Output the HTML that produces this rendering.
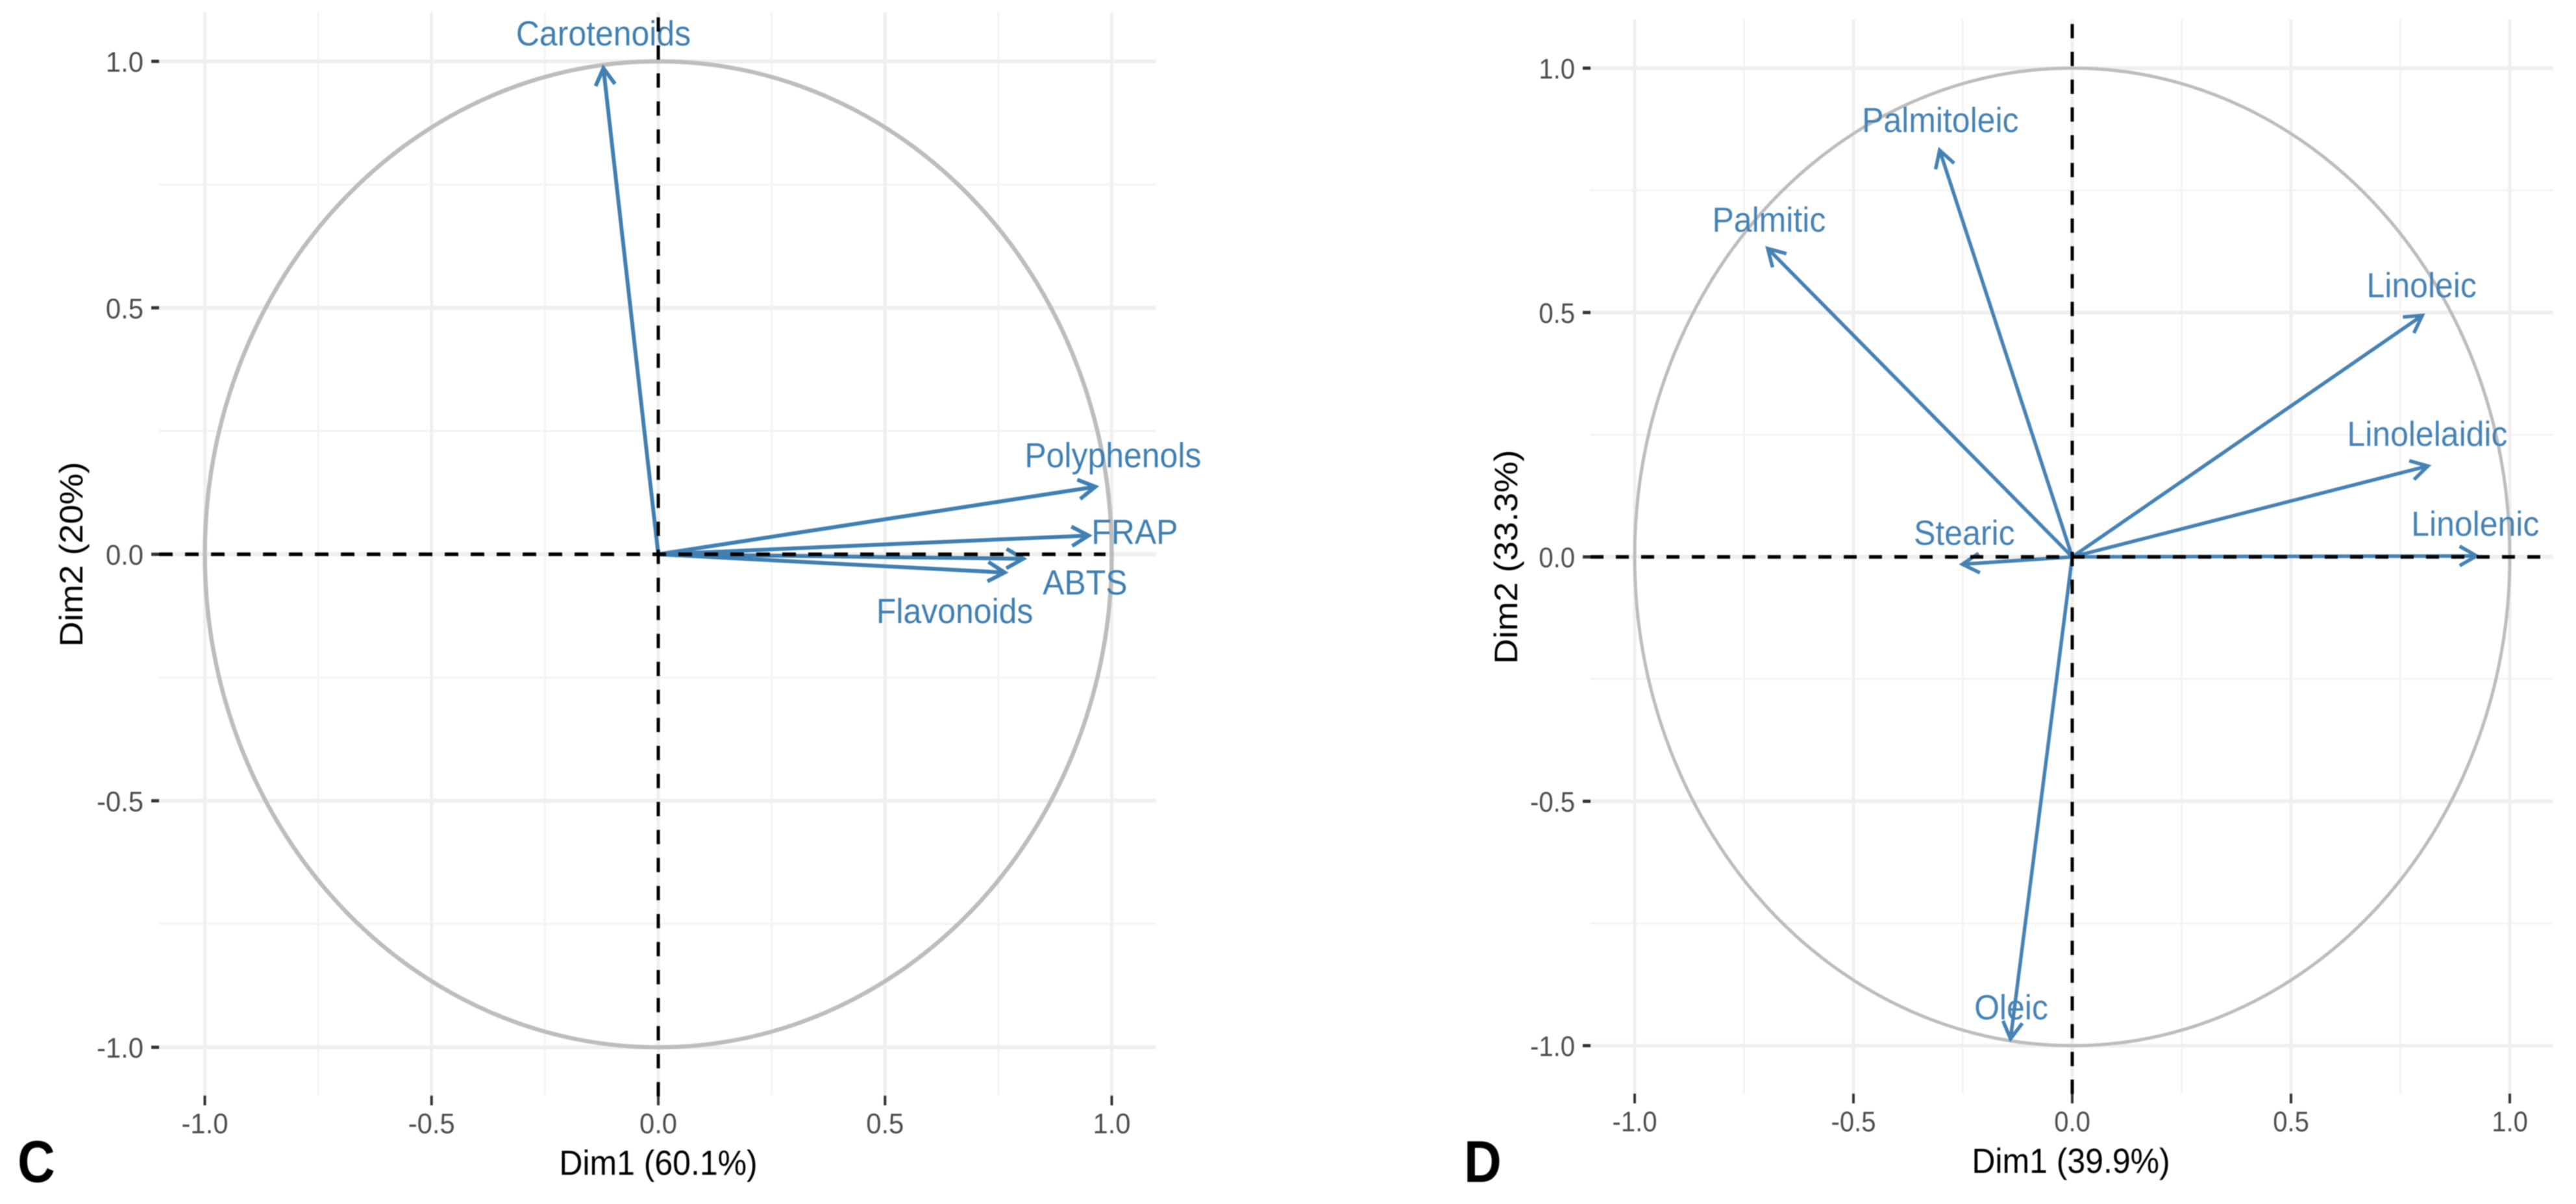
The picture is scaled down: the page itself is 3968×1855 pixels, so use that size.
<!DOCTYPE html>
<html lang="en">
<head>
<meta charset="utf-8">
<title>PCA variable correlation circles</title>
<style>
  html, body { margin: 0; padding: 0; background: #ffffff; }
  #figure { display: block; width: 3968px; height: 1855px; filter: blur(0.9px); }
  text { font-family: "Liberation Sans", Arial, sans-serif; }
</style>
</head>
<body>
<svg id="figure" xmlns="http://www.w3.org/2000/svg" width="3968" height="1855" viewBox="0 0 3968 1855">
  <rect x="0" y="0" width="3968" height="1855" fill="#ffffff"></rect>
  <g id="panel-c"></g>
  <g id="panel-d"></g>
</svg>
<script>
// ---- chart data ----
const majorTicks = [-1, -0.5, 0, 0.5, 1];
const minorTicks = [-0.75, -0.25, 0.25, 0.75];
const tickLabels = ['-1.0', '-0.5', '0.0', '0.5', '1.0'];

const categoriesC = ['Carotenoids', 'Polyphenols', 'FRAP', 'ABTS', 'Flavonoids'];
const dim1C = [-0.121, 0.964, 0.949, 0.805, 0.764];
const dim2C = [0.986, 0.137, 0.038, -0.009, -0.037];

const categoriesD = ['Linoleic', 'Linolelaidic', 'Linolenic', 'Palmitic', 'Palmitoleic', 'Stearic', 'Oleic'];
const dim1D = [0.800, 0.813, 0.924, -0.696, -0.303, -0.251, -0.141];
const dim2D = [0.494, 0.186, 0.002, 0.631, 0.832, -0.015, -0.986];

const xTitleC = 'Dim1 (60.1%)';
const yTitleC = 'Dim2 (20%)';
const xTitleD = 'Dim1 (39.9%)';
const yTitleD = 'Dim2 (33.3%)';

// ---- drawing ----
const SVG_NS = 'http://www.w3.org/2000/svg';

function shape(parent, tag, attrs) {
  const el = document.createElementNS(SVG_NS, tag);
  for (const k in attrs) el.setAttribute(k, attrs[k]);
  parent.appendChild(el);
  return el;
}

function label(parent, str, x, y, size, fill, anchor, sx, rotate, weight) {
  const t = rotate ? ' rotate(-90)' : '';
  const el = shape(parent, 'text', {
    transform: 'translate(' + x + ' ' + y + ') scale(' + sx + ' 1)' + t,
    'font-size': size,
    fill: fill,
    'text-anchor': anchor,
    'font-weight': weight || 'normal'
  });
  el.textContent = str;
  return el;
}

function drawPanel(root, cfg, names, xs, ys, xTitle, yTitle) {
  const sx = function (v) { return cfg.cx + v * cfg.rx; };
  const sy = function (v) { return cfg.cy - v * cfg.ry; };

  // minor grid
  minorTicks.forEach(function (v) {
    const h = shape(root, 'line', { x1: cfg.left, x2: cfg.right, y1: sy(v), y2: sy(v), stroke: '#f3f3f3', 'stroke-width': 3 });
    
    
    const w = shape(root, 'line', { x1: sx(v), x2: sx(v), y1: cfg.top, y2: cfg.bottom, stroke: '#f3f3f3', 'stroke-width': 3 });
    
    
  });

  // major grid, ticks, tick labels
  majorTicks.forEach(function (v, i) {
    const h = shape(root, 'line', { x1: cfg.left, x2: cfg.right, y1: sy(v), y2: sy(v), stroke: '#efefef', 'stroke-width': 6 });
    
    
    const w = shape(root, 'line', { x1: sx(v), x2: sx(v), y1: cfg.top, y2: cfg.bottom, stroke: '#efefef', 'stroke-width': 5 });
    
    

    const ty = shape(root, 'line', { x1: cfg.left - 12, x2: cfg.left, y1: sy(v), y2: sy(v), stroke: '#333333', 'stroke-width': 5 });
    
    
    const tx = shape(root, 'line', { x1: sx(v), x2: sx(v), y1: cfg.bottom, y2: cfg.bottom + 15, stroke: '#333333', 'stroke-width': 4 });
    
    

    const ly = label(root, tickLabels[i], cfg.left - 24, sy(v) + 16, 44, '#4d4d4d', 'end', cfg.tickScale);
    
    
    const lx = label(root, tickLabels[i], sx(v), cfg.bottom + 58, 44, '#4d4d4d', 'middle', cfg.tickScale);
    
    
  });

  // unit circle
  const circle = shape(root, 'ellipse', { cx: sx(0), cy: sy(0), rx: cfg.rx, ry: cfg.ry, fill: 'none', stroke: '#bdbdbd', 'stroke-width': cfg.circleWidth });
  
  

  // variable arrows and their labels
  names.forEach(function (name, i) {
    const tipX = sx(xs[i]);
    const tipY = sy(ys[i]);
    const ox = sx(0);
    const oy = sy(0);
    const len = Math.hypot(tipX - ox, tipY - oy);
    const ux = (tipX - ox) / len;
    const uy = (tipY - oy) / len;
    const along = 26;
    const across = 15;
    const d = 'M' + ox + ' ' + oy + 'L' + tipX + ' ' + tipY +
      'M' + (tipX - ux * along - uy * across) + ' ' + (tipY - uy * along + ux * across) +
      'L' + tipX + ' ' + tipY +
      'L' + (tipX - ux * along + uy * across) + ' ' + (tipY - uy * along - ux * across);
    const arrow = shape(root, 'path', { d: d, fill: 'none', stroke: cfg.blue, 'stroke-width': cfg.arrowWidth, 'stroke-linejoin': 'miter' });
    
    

    const off = cfg.labelOffsets[name];
    const text = label(root, name, tipX + off[0], tipY + off[1], 54, cfg.blue, 'middle', 0.925);
    
    
  });

  // dashed reference lines at zero
  const hz = shape(root, 'line', { x1: cfg.left, x2: cfg.hEnd, y1: sy(0), y2: sy(0), stroke: '#000000', 'stroke-width': 5.5, 'stroke-dasharray': cfg.hDash });
  
  
  const vt = shape(root, 'line', { x1: sx(0), x2: sx(0), y1: cfg.vStart, y2: cfg.bottom + 15, stroke: '#000000', 'stroke-width': 5, 'stroke-dasharray': cfg.vDash });
  
  

  // axis titles and panel tag
  const xt = label(root, xTitle, sx(0) - cfg.xTitleShift, cfg.xTitleY, 54, '#000000', 'middle', 0.925);
  
  
  const yt = label(root, yTitle, cfg.yTitleX, sy(0), 54, '#000000', 'middle', 0.925, true);
  
  
  const tag = label(root, cfg.tag, cfg.tagX, 1821, 91, '#000000', 'start', 0.88, false, 'bold');
  
  
}

drawPanel(document.getElementById('panel-c'), {
  cx: 1014, cy: 854, rx: 698.5, ry: 759.5,
  left: 245, right: 1781, top: 19, bottom: 1688,
  hEnd: 1703, hDash: '21 19', vStart: 26.7, vDash: '22 21.17',
  circleWidth: 6.5, arrowWidth: 6, blue: '#3f7fb1', tickScale: 0.95,
  xTitleShift: 0, xTitleY: 1810, yTitleX: 127, tag: 'C', tagX: 27,
  labelOffsets: {
    Carotenoids: [0, -35],
    Polyphenols: [27, -30],
    FRAP: [71, 13],
    ABTS: [95, 55],
    Flavonoids: [-77, 78]
  }
}, categoriesC, dim1C, dim2C, xTitleC, yTitleC);

drawPanel(document.getElementById('panel-d'), {
  cx: 3192, cy: 858, rx: 674, ry: 753,
  left: 2450, right: 3933, top: 30, bottom: 1685,
  hEnd: 3926, hDash: '20 19', vStart: 37, vDash: '22 20.8',
  circleWidth: 5, arrowWidth: 5.5, blue: '#4682b4', tickScale: 0.91,
  xTitleShift: 2, xTitleY: 1807, yTitleX: 2337, tag: 'D', tagX: 2255,
  labelOffsets: {
    Linoleic: [-1, -28],
    Linolelaidic: [-1, -31],
    Linolenic: [-2, -31],
    Palmitic: [2, -26],
    Palmitoleic: [1, -28],
    Stearic: [3, -30],
    Oleic: [1, -30]
  }
}, categoriesD, dim1D, dim2D, xTitleD, yTitleD);
</script>
</body>
</html>
